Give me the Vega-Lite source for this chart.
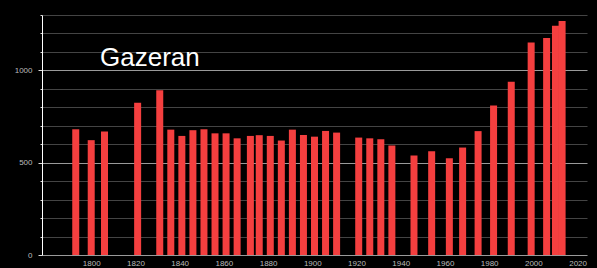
{
  "$schema": "https://vega.github.io/schema/vega-lite/v6.json",
  "autosize": {"type": "none"},
  "padding": {"left": 42, "top": 15, "right": 10, "bottom": 13},
  "width": 545,
  "height": 240,
  "background": "#000000",
  "config": {"view": {"stroke": null}},
  "title": {
    "text": "Gazeran",
    "font": "Liberation Sans",
    "fontSize": 26,
    "fontWeight": "normal",
    "color": "#ffffff",
    "anchor": "start",
    "frame": "group",
    "orient": "top",
    "baseline": "alphabetic",
    "offset": 0,
    "dx": 58,
    "dy": 81
  },
  "data": {
    "values": [
      {"year": 1793, "population": 681},
      {"year": 1800, "population": 622},
      {"year": 1806, "population": 669},
      {"year": 1821, "population": 825},
      {"year": 1831, "population": 892},
      {"year": 1836, "population": 679},
      {"year": 1841, "population": 645},
      {"year": 1846, "population": 676},
      {"year": 1851, "population": 681},
      {"year": 1856, "population": 659},
      {"year": 1861, "population": 659},
      {"year": 1866, "population": 632},
      {"year": 1872, "population": 645},
      {"year": 1876, "population": 649},
      {"year": 1881, "population": 645},
      {"year": 1886, "population": 620},
      {"year": 1891, "population": 679},
      {"year": 1896, "population": 650},
      {"year": 1901, "population": 641},
      {"year": 1906, "population": 672},
      {"year": 1911, "population": 663},
      {"year": 1921, "population": 636},
      {"year": 1926, "population": 632},
      {"year": 1931, "population": 627},
      {"year": 1936, "population": 593},
      {"year": 1946, "population": 539},
      {"year": 1954, "population": 562},
      {"year": 1962, "population": 524},
      {"year": 1968, "population": 582},
      {"year": 1975, "population": 671},
      {"year": 1982, "population": 810},
      {"year": 1990, "population": 939},
      {"year": 1999, "population": 1151},
      {"year": 2006, "population": 1175},
      {"year": 2010, "population": 1242},
      {"year": 2013, "population": 1268}
    ]
  },
  "mark": {"type": "bar", "width": 7, "color": "#f43f3f"},
  "encoding": {
    "x": {
      "field": "year",
      "type": "quantitative",
      "scale": {"domain": [1780, 2022], "nice": false, "zero": false},
      "axis": {
        "title": null,
        "values": [1800, 1820, 1840, 1860, 1880, 1900, 1920, 1940, 1960, 1980, 2000, 2020],
        "format": "d",
        "grid": false,
        "domain": false,
        "ticks": false,
        "labelColor": "#bbbbbb",
        "labelFont": "Liberation Sans",
        "labelFontSize": 8,
        "labelPadding": 4,
        "labelFlush": false,
        "labelOverlap": false
      }
    },
    "y": {
      "field": "population",
      "type": "quantitative",
      "scale": {"domain": [0, 1300], "nice": false},
      "axis": {
        "title": null,
        "values": [0, 100, 200, 300, 400, 500, 600, 700, 800, 900, 1000, 1100, 1200, 1300],
        "labelExpr": "datum.value % 500 === 0 ? datum.label : ''",
        "format": "d",
        "grid": true,
        "gridColor": {"condition": {"test": "datum.value % 500 === 0", "value": "#9a9a9a"}, "value": "#444444"},
        "gridWidth": 1.2,
        "domain": true,
        "domainColor": "#ffffff",
        "domainWidth": 1,
        "ticks": true,
        "tickColor": "#dddddd",
        "tickSize": {"condition": {"test": "datum.value % 500 === 0", "value": 4}, "value": 2},
        "labelColor": "#bbbbbb",
        "labelFont": "Liberation Sans",
        "labelFontSize": 8,
        "labelPadding": 6,
        "labelOverlap": false,
        "labelFlush": false
      }
    }
  }
}
